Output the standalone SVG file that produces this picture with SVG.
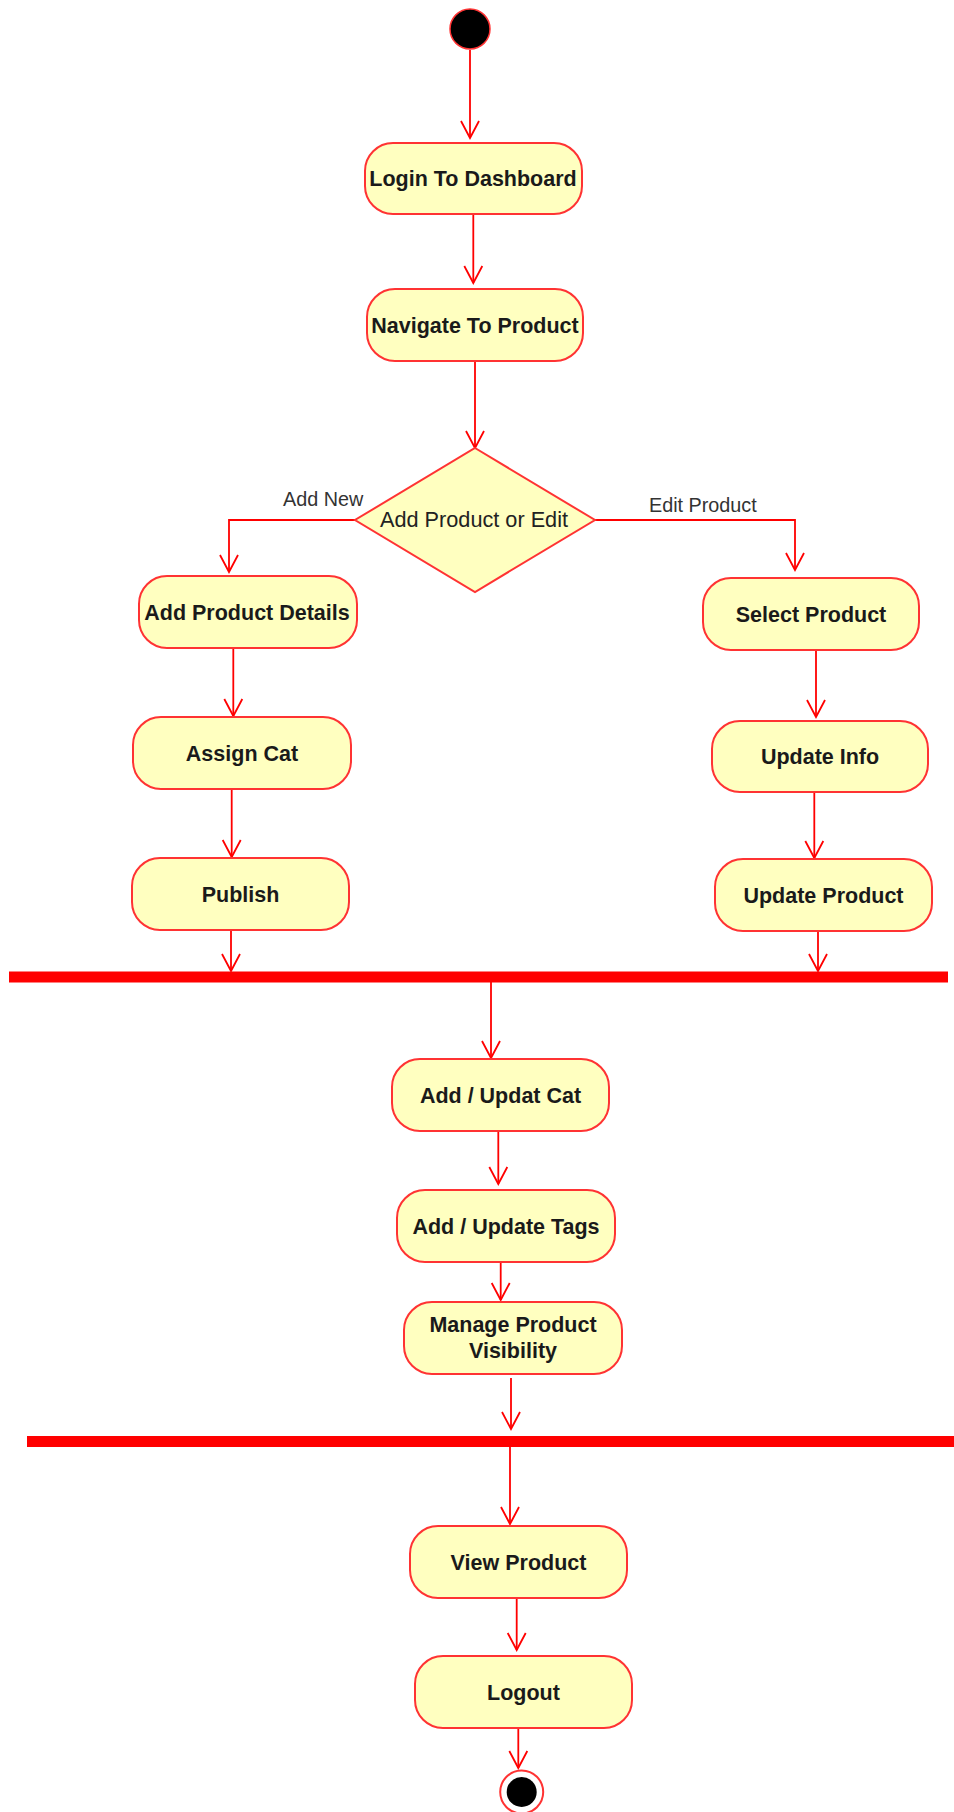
<svg xmlns="http://www.w3.org/2000/svg" width="954" height="1812" viewBox="0 0 954 1812">
  <style>
    .act { fill: #ffffc0; stroke: #ff3333; stroke-width: 2; }
    .dec { fill: #ffffc0; stroke: #ff3333; stroke-width: 2; }
    .bar { fill: #ff0000; }
    .edge { fill: none; stroke: #ff0000; stroke-width: 1.8; marker-end: url(#open); }
    .t { font-family: "Liberation Sans", Arial, sans-serif; font-size: 21.5px; font-weight: bold; fill: #1a1a1a; text-anchor: middle; }
    .d { font-family: "Liberation Sans", Arial, sans-serif; font-size: 21.7px; fill: #222; text-anchor: middle; }
    .l { font-family: "Liberation Sans", Arial, sans-serif; font-size: 19.8px; fill: #333; }
  </style>
  <defs>
    <marker id="open" markerUnits="userSpaceOnUse" markerWidth="22" markerHeight="22" viewBox="-19 -11 22 22" refX="0" refY="0" orient="auto">
      <path d="M -17 -9 L 0 0 L -17 9" fill="none" stroke="#ff0000" stroke-width="1.8"/>
    </marker>
  </defs>

  <!-- connectors -->
  <g id="connectors">
    <path class="edge" d="M 470 50 L 470 138"/>
    <path class="edge" d="M 473.3 214 L 473.3 283"/>
    <path class="edge" d="M 475 361 L 475 448"/>
    <path class="edge" d="M 355 520 L 229 520 L 229 572"/>
    <path class="edge" d="M 595 520 L 795 520 L 795 570"/>
    <path class="edge" d="M 233.3 648 L 233.3 716"/>
    <path class="edge" d="M 231.7 789 L 231.7 857"/>
    <path class="edge" d="M 231 930 L 231 971"/>
    <path class="edge" d="M 816 650 L 816 717"/>
    <path class="edge" d="M 814.3 792 L 814.3 858"/>
    <path class="edge" d="M 818 932 L 818 971"/>
    <path class="edge" d="M 491 982 L 491 1058"/>
    <path class="edge" d="M 498.3 1132 L 498.3 1184"/>
    <path class="edge" d="M 500.7 1262 L 500.7 1300"/>
    <path class="edge" d="M 511 1378 L 511 1429"/>
    <path class="edge" d="M 510 1447 L 510 1524"/>
    <path class="edge" d="M 516.7 1598 L 516.7 1650"/>
    <path class="edge" d="M 518.3 1728 L 518.3 1768"/>
    <text class="l" x="283" y="506">Add New</text>
    <text class="l" x="649" y="512">Edit Product</text>
  </g>

  <!-- initial node -->
  <g id="start">
    <circle cx="470" cy="29" r="20" fill="#000" stroke="#ff3333" stroke-width="1.5"/>
  </g>

  <g id="login">
    <rect class="act" x="365" y="143" width="217" height="71" rx="28"/>
    <text class="t" x="473" y="186">Login To Dashboard</text>
  </g>
  <g id="navigate">
    <rect class="act" x="367" y="289" width="216" height="72" rx="28"/>
    <text class="t" x="475" y="333">Navigate To Product</text>
  </g>
  <g id="decision">
    <polygon class="dec" points="475,448 595,520 475,592 355,520"/>
    <text class="d" x="474" y="527">Add Product or Edit</text>
  </g>

  <!-- add branch -->
  <g id="add-details">
    <rect class="act" x="139" y="576" width="218" height="72" rx="28"/>
    <text class="t" x="247" y="620">Add Product Details</text>
  </g>
  <g id="assign-cat">
    <rect class="act" x="133" y="717" width="218" height="72" rx="28"/>
    <text class="t" x="242" y="761">Assign Cat</text>
  </g>
  <g id="publish">
    <rect class="act" x="132" y="858" width="217" height="72" rx="28"/>
    <text class="t" x="240.5" y="902">Publish</text>
  </g>

  <!-- edit branch -->
  <g id="select-product">
    <rect class="act" x="703" y="578" width="216" height="72" rx="28"/>
    <text class="t" x="811" y="622">Select Product</text>
  </g>
  <g id="update-info">
    <rect class="act" x="712" y="721" width="216" height="71" rx="28"/>
    <text class="t" x="820" y="764">Update Info</text>
  </g>
  <g id="update-product">
    <rect class="act" x="715" y="859" width="217" height="72" rx="28"/>
    <text class="t" x="823.5" y="903">Update Product</text>
  </g>

  <!-- join bar -->
  <g id="join">
    <rect class="bar" x="9" y="971.5" width="939" height="11"/>
  </g>

  <g id="update-cat">
    <rect class="act" x="392" y="1059" width="217" height="72" rx="28"/>
    <text class="t" x="500.5" y="1103">Add / Updat Cat</text>
  </g>
  <g id="update-tags">
    <rect class="act" x="397" y="1190" width="218" height="72" rx="28"/>
    <text class="t" x="506" y="1234">Add / Update Tags</text>
  </g>
  <g id="visibility">
    <rect class="act" x="404" y="1302" width="218" height="72" rx="28"/>
    <text class="t" x="513" y="1332">Manage Product</text>
    <text class="t" x="513" y="1358">Visibility</text>
  </g>

  <g id="sync">
    <rect class="bar" x="27" y="1436" width="930" height="11"/>
  </g>

  <g id="view-product">
    <rect class="act" x="410" y="1526" width="217" height="72" rx="28"/>
    <text class="t" x="518.5" y="1570">View Product</text>
  </g>
  <g id="logout">
    <rect class="act" x="415" y="1656" width="217" height="72" rx="28"/>
    <text class="t" x="523.5" y="1700">Logout</text>
  </g>

  <!-- final node -->
  <g id="end">
    <circle cx="521.7" cy="1792" r="21.5" fill="#fff" stroke="#ff3333" stroke-width="2"/>
    <circle cx="521.7" cy="1792" r="15" fill="#000"/>
  </g>
</svg>
